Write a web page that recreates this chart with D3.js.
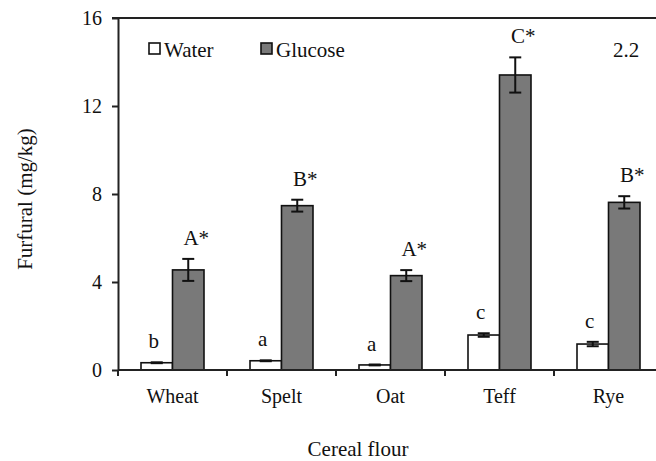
<!DOCTYPE html>
<html>
<head>
<meta charset="utf-8">
<script src="https://cdn.jsdelivr.net/npm/d3@7"></script>
<style>
    body { margin: 0; background: #fff; }
    svg { display: block; }
    text { font-family: "Liberation Serif", "DejaVu Serif", "Times New Roman", serif; fill: #111; }
</style>
</head>
<body>
<div id="chart"></div>
<script>
'use strict';

// data
const categories = ['Wheat', 'Spelt', 'Oat', 'Teff', 'Rye'];
const series = ['Water', 'Glucose'];
const waterValues = [0.33, 0.42, 0.23, 1.59, 1.18];
const waterErrors = [0.02, 0.02, 0.02, 0.08, 0.1];
const glucoseValues = [4.55, 7.47, 4.29, 13.41, 7.62];
const glucoseErrors = [0.5, 0.27, 0.25, 0.8, 0.28];
const waterLetters = ['b', 'a', 'a', 'c', 'c'];
const glucoseLetters = ['A*', 'B*', 'A*', 'C*', 'B*'];
const yTicks = [0, 4, 8, 12, 16];

const width = 656;
const height = 461;
const margin = { left: 118, top: 18, bottom: 91 };
const plotRight = 663; // the original plot runs past the picture edge
const serif = '"Liberation Serif", "DejaVu Serif", "Times New Roman", serif';

const svg = d3.select('#chart').append('svg')
    .attr('width', width)
    .attr('height', height)
    .attr('font-family', serif);

const y = d3.scaleLinear()
    .domain([0, 16])
    .range([height - margin.bottom, margin.top]);

const x0 = d3.scaleBand()
    .domain(categories)
    .range([margin.left, plotRight]);

const x1 = d3.scaleBand()
    .domain(series)
    .range([23, x0.bandwidth() - 23]);

const fills = { Water: '#ffffff', Glucose: '#797979' };

const rows = categories.map((c, i) => ({
    cat: c,
    bars: [
        { s: 'Water', v: waterValues[i], e: waterErrors[i], label: waterLetters[i], dx: -3 },
        { s: 'Glucose', v: glucoseValues[i], e: glucoseErrors[i], label: glucoseLetters[i], dx: 8 }
    ]
}));

// top frame line
svg.append('line')
    .attr('x1', margin.left - 6).attr('x2', plotRight)
    .attr('y1', y(16)).attr('y2', y(16))
    .attr('stroke', '#222').attr('stroke-width', 2);

const groups = svg.selectAll('g.cat')
    .data(rows)
    .enter().append('g')
    .attr('class', 'cat')
    .attr('transform', d => `translate(${x0(d.cat)},0)`);

groups.selectAll('rect')
    .data(d => d.bars)
    .enter().append('rect')
    .attr('x', d => x1(d.s))
    .attr('y', d => y(d.v))
    .attr('width', x1.bandwidth())
    .attr('height', d => y(0) - y(d.v))
    .attr('fill', d => fills[d.s])
    .attr('stroke', '#111')
    .attr('stroke-width', 1.6);

// error bars
const err = groups.selectAll('g.err')
    .data(d => d.bars)
    .enter().append('g')
    .attr('class', 'err')
    .attr('stroke', '#111')
    .attr('stroke-width', 2);

err.append('line')
    .attr('x1', d => x1(d.s) + x1.bandwidth() / 2)
    .attr('x2', d => x1(d.s) + x1.bandwidth() / 2)
    .attr('y1', d => y(d.v + d.e))
    .attr('y2', d => y(d.v - d.e));

err.append('line')
    .attr('x1', d => x1(d.s) + x1.bandwidth() / 2 - 6)
    .attr('x2', d => x1(d.s) + x1.bandwidth() / 2 + 6)
    .attr('y1', d => y(d.v + d.e))
    .attr('y2', d => y(d.v + d.e));

err.append('line')
    .attr('x1', d => x1(d.s) + x1.bandwidth() / 2 - 6)
    .attr('x2', d => x1(d.s) + x1.bandwidth() / 2 + 6)
    .attr('y1', d => y(d.v - d.e))
    .attr('y2', d => y(d.v - d.e));

// significance letters
groups.selectAll('text.letter')
    .data(d => d.bars)
    .enter().append('text')
    .attr('class', 'letter')
    .attr('x', d => x1(d.s) + x1.bandwidth() / 2 + d.dx)
    .attr('y', d => y(d.v + d.e) - 14)
    .attr('text-anchor', 'middle')
    .attr('font-size', 21)
    .text(d => d.label);

// y axis
const yAxis = svg.append('g')
    .attr('transform', `translate(${margin.left},0)`)
    .call(d3.axisLeft(y).tickValues(yTicks).tickSize(6).tickPadding(10).tickSizeOuter(0))
    .attr('font-family', serif);
yAxis.select('.domain').attr('stroke', '#222').attr('stroke-width', 2);
yAxis.selectAll('.tick line').attr('stroke', '#222').attr('stroke-width', 2);
yAxis.selectAll('.tick text')
    .attr('font-size', 20)
    .attr('fill', '#111');

// x axis: line plus ticks at category edges
const xAxis = svg.append('g').attr('class', 'x-axis');
xAxis.append('line')
    .attr('x1', margin.left).attr('x2', plotRight)
    .attr('y1', y(0)).attr('y2', y(0))
    .attr('stroke', '#222').attr('stroke-width', 2);
xAxis.selectAll('line.tk')
    .data(categories)
    .enter().append('line')
    .attr('class', 'tk')
    .attr('x1', d => x0(d)).attr('x2', d => x0(d))
    .attr('y1', y(0)).attr('y2', y(0) + 6)
    .attr('stroke', '#222').attr('stroke-width', 2);
xAxis.selectAll('text')
    .data(categories)
    .enter().append('text')
    .attr('x', d => x0(d) + x0.bandwidth() / 2)
    .attr('y', y(0) + 33)
    .attr('text-anchor', 'middle')
    .attr('font-size', 20)
    .text(d => d);

// axis titles
svg.append('text')
    .attr('x', 358)
    .attr('y', 456)
    .attr('text-anchor', 'middle')
    .attr('font-size', 21)
    .text('Cereal flour');

svg.append('text')
    .attr('transform', 'translate(32,199) rotate(-90)')
    .attr('text-anchor', 'middle')
    .attr('font-size', 21)
    .text('Furfural (mg/kg)');

// legend
const legend = svg.append('g').attr('transform', 'translate(149,43)');
const legendX = { Water: 0, Glucose: 112 };
series.forEach((s) => {
    const item = legend.append('g').attr('transform', `translate(${legendX[s]},0)`);
    item.append('rect')
        .attr('width', 11).attr('height', 11)
        .attr('fill', fills[s])
        .attr('stroke', '#111').attr('stroke-width', 1.6);
    item.append('text')
        .attr('x', 15).attr('y', 14)
        .attr('font-size', 21)
        .text(s);
});

// panel number
svg.append('text')
    .attr('x', 626).attr('y', 57)
    .attr('text-anchor', 'middle')
    .attr('font-size', 21)
    .text('2.2');
</script>
</body>
</html>
